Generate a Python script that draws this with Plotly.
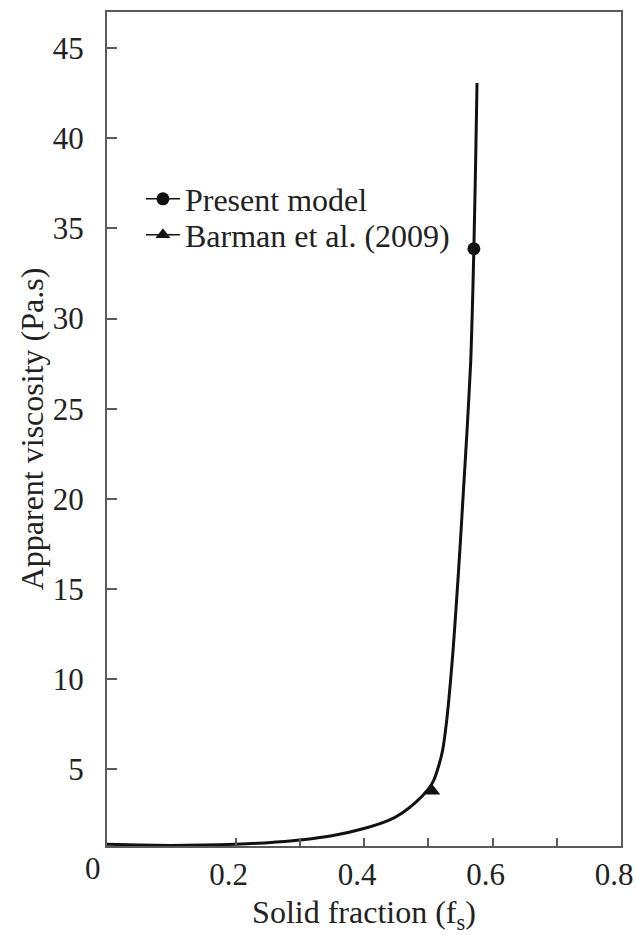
import plotly.graph_objects as go

# Curve (solid fraction vs apparent viscosity)
solid_fraction = [0.0, 0.05, 0.1, 0.15, 0.2, 0.25, 0.3, 0.35, 0.4, 0.44,
                  0.46, 0.48, 0.5, 0.5083, 0.5156, 0.5223, 0.5293, 0.5343,
                  0.5386, 0.5441, 0.5492, 0.5548, 0.5604, 0.5662, 0.569,
                  0.571, 0.5738, 0.5759]
viscosity = [0.85, 0.8, 0.78, 0.8, 0.85, 0.93, 1.08, 1.32, 1.72, 2.2,
             2.6, 3.15, 3.9, 4.38, 5.12, 6.05, 7.9, 9.75,
             11.59, 14.37, 17.14, 20.47, 23.8, 27.68, 31.01,
             33.87, 38.77, 43.06]

present_x = [0.571]
present_y = [33.87]
barman_x = [0.507]
barman_y = [3.78]

x_tickvals = [0.2, 0.3, 0.4, 0.5, 0.6, 0.7, 0.8]
x_ticktext = ["0.2", "", "0.4", "", "0.6", "", "0.8"]
y_tickvals = [5, 10, 15, 20, 25, 30, 35, 40, 45]
y_ticktext = ["5", "10", "15", "20", "25", "30", "35", "40", "45"]

FONT = "Liberation Serif, Times New Roman, serif"
TXT = "#222222"
AX = "#5a5a5a"

fig = go.Figure()
fig.add_trace(go.Scatter(x=solid_fraction, y=viscosity, mode="lines",
                         line=dict(color="#111111", width=3, shape="spline", smoothing=0.5),
                         showlegend=False, hoverinfo="skip"))
fig.add_trace(go.Scatter(x=present_x, y=present_y, mode="lines+markers",
                         name="Present model", legend="legend",
                         line=dict(color="#111111", width=1.5),
                         marker=dict(symbol="circle", size=13, color="#111111")))
fig.add_trace(go.Scatter(x=barman_x, y=barman_y, mode="lines+markers",
                         name="Barman et al. (2009)", legend="legend2",
                         line=dict(color="#111111", width=1.5),
                         marker=dict(symbol="triangle-up", size=13, color="#111111")))

legend_common = dict(xanchor="left", yanchor="middle", bgcolor="rgba(0,0,0,0)",
                     font=dict(size=32, family=FONT, color=TXT), itemwidth=34)

fig.update_layout(
    width=636, height=935,
    margin=dict(l=107, r=15, t=12, b=89),
    paper_bgcolor="white", plot_bgcolor="white",
    font=dict(family=FONT, size=31, color=TXT),
    legend=dict(x=0.066, y=0.7758, **legend_common),
    legend2=dict(x=0.066, y=0.7326, **legend_common),
    xaxis=dict(range=[0, 0.8], tickmode="array", tickvals=x_tickvals, ticktext=x_ticktext,
               ticks="inside", ticklen=8, tickwidth=1.5, tickcolor=AX,
               showline=True, linecolor=AX, linewidth=2, mirror=True,
               showgrid=False, zeroline=False, ticklabelshift=-7, automargin=False,
               tickfont=dict(size=31, family=FONT, color=TXT),
               title=dict(text="Solid fraction (f<sub>s</sub>)", standoff=12,
                          font=dict(size=32, family=FONT, color=TXT))),
    yaxis=dict(range=[0.75, 47.0], tickmode="array", tickvals=y_tickvals, ticktext=y_ticktext,
               ticks="inside", ticklen=10, tickwidth=1.5, tickcolor=AX,
               showline=True, linecolor=AX, linewidth=2, mirror=True,
               showgrid=False, zeroline=False, automargin=False, ticklabelstandoff=15,
               tickfont=dict(size=31, family=FONT, color=TXT),
               title=dict(text="Apparent viscosity (Pa.s)", standoff=0,
                          font=dict(size=32, family=FONT, color=TXT))),
    annotations=[dict(text="0", x=0, y=0, xref="x", yref="paper", showarrow=False,
                      xshift=-14, yshift=-22, yanchor="middle", xanchor="center",
                      font=dict(size=31, family=FONT, color=TXT))],
)

fig.write_html("out.html")
